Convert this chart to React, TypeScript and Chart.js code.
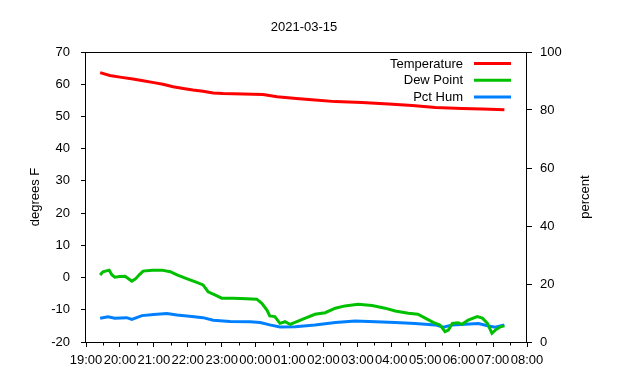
import { useEffect, useRef } from "react";
import { Chart, registerables } from "chart.js";

Chart.register(...registerables);

const chartTitle = "2021-03-15";
const leftAxisTitle = "degrees F";
const rightAxisTitle = "percent";
const xTickHours = ["19:00","20:00","21:00","22:00","23:00","00:00","01:00","02:00","03:00","04:00","05:00","06:00","07:00","08:00"];

const tempTimes = ["19:25","19:42","20:00","20:23","20:41","21:00","21:16","21:34","21:52","22:09","22:27","22:45","23:02","23:38","00:13","00:38","01:12","01:45","02:21","03:08","03:55","04:37","05:18","06:05","06:41","07:20"];
const tempValues = [63.6,62.7,62.2,61.6,61.1,60.5,60.0,59.2,58.7,58.2,57.8,57.3,57.1,57.0,56.8,56.1,55.6,55.1,54.6,54.3,53.9,53.4,52.8,52.5,52.3,52.1];

const dewTimes = ["19:25","19:30","19:41","19:46","19:51","20:00","20:09","20:14","20:21","20:27","20:35","20:41","20:57","21:14","21:29","21:41","21:59","22:16","22:27","22:36","22:48","23:00","23:20","23:44","00:02","00:11","00:20","00:25","00:34","00:43","00:52","01:01","01:14","01:28","01:45","02:03","02:21","02:38","03:01","03:26","03:49","04:07","04:30","04:47","05:00","05:14","05:26","05:35","05:41","05:48","05:58","06:05","06:16","06:32","06:41","06:50","06:58","07:04","07:13","07:20"];
const dewValues = [0.8,1.8,2.3,0.8,0.1,0.3,0.4,-0.2,-1.1,-0.5,1.0,2.0,2.3,2.3,1.8,0.8,-0.4,-1.5,-2.3,-4.4,-5.4,-6.4,-6.4,-6.6,-6.7,-8.0,-10.1,-11.9,-12.1,-14.2,-13.7,-14.5,-13.6,-12.6,-11.4,-10.9,-9.5,-8.8,-8.3,-8.7,-9.5,-10.4,-11.1,-11.4,-12.6,-13.9,-14.7,-16.8,-16.3,-14.2,-14.0,-14.5,-13.2,-12.1,-12.6,-14.2,-17.3,-16.3,-15.3,-15.0];

const humTimes = ["19:25","19:39","19:51","20:12","20:21","20:39","21:00","21:23","21:41","22:03","22:27","22:45","23:15","23:50","00:08","00:25","00:43","01:10","01:45","02:21","02:56","03:32","04:07","04:42","05:18","05:32","05:48","06:11","06:34","06:52","07:04","07:20"];
const humValues = [8.2,8.7,8.2,8.4,7.8,9.1,9.5,9.8,9.3,8.9,8.4,7.5,7.1,7.0,6.7,5.9,5.2,5.3,5.9,6.7,7.2,7.0,6.7,6.4,5.9,5.1,5.9,6.1,6.4,5.5,5.1,5.9];

const seriesNames = ["Temperature", "Dew Point", "Pct Hum"];
const seriesColors = ["#ff0000", "#00c000", "#0080ff"];

const START_HOUR = 19;
function toHours(t: string): number {
  const [h, m] = t.split(":").map(Number);
  return ((h - START_HOUR + 24) % 24) + m / 60;
}
function pts(times: string[], vals: number[]) {
  return times.map((t, i) => ({ x: toHours(t), y: vals[i] }));
}

const FONT = "13px 'Liberation Sans', Arial, sans-serif";

const decorPlugin = {
  id: "decor",
  afterDraw(chart: any) {
    const ctx = chart.ctx;
    const a = chart.chartArea;
    ctx.save();
    ctx.strokeStyle = "#000";
    ctx.lineWidth = 1;
    const l = Math.round(a.left) - 0.5, t = Math.round(a.top) + 0.5;
    const r = Math.round(a.right) - 0.5, b = Math.round(a.bottom) + 0.5;
    ctx.strokeRect(l, t, r - l, b - t);
    const xs = chart.scales.x;
    ctx.beginPath();
    for (let v = 0.5; v < 13; v += 1) {
      const px = Math.round(xs.getPixelForValue(v)) + 0.5;
      ctx.moveTo(px, b);
      ctx.lineTo(px, b + 3);
    }
    ctx.stroke();
    ctx.fillStyle = "#000";
    ctx.font = FONT;
    ctx.textAlign = "center";
    ctx.textBaseline = "alphabetic";
    ctx.fillText(chartTitle, 304, 31);
    ctx.textBaseline = "middle";
    ctx.save();
    ctx.translate(35, (a.top + a.bottom) / 2);
    ctx.rotate(-Math.PI / 2);
    ctx.fillText(leftAxisTitle, 0, 0);
    ctx.restore();
    ctx.save();
    ctx.translate(585, (a.top + a.bottom) / 2);
    ctx.rotate(-Math.PI / 2);
    ctx.fillText(rightAxisTitle, 0, 0);
    ctx.restore();
    ctx.textAlign = "right";
    chart.data.datasets.forEach((ds: any, i: number) => {
      const y = 63.5 + i * 16.7;
      ctx.fillStyle = "#000";
      ctx.fillText(ds.label, 463, y + 0.5);
      ctx.strokeStyle = ds.borderColor;
      ctx.lineWidth = 3;
      ctx.beginPath();
      ctx.moveTo(474, y);
      ctx.lineTo(511, y);
      ctx.stroke();
    });
    ctx.restore();
  },
};

export default function App() {
  const ref = useRef<HTMLCanvasElement | null>(null);
  useEffect(() => {
    document.body.style.margin = "0";
    if (!ref.current) return;
    Chart.defaults.font.family = "'Liberation Sans', Arial, sans-serif";
    Chart.defaults.font.size = 13;
    Chart.defaults.color = "#000";
    const tickGrid = {
      drawOnChartArea: false,
      drawTicks: true,
      tickLength: 5,
      color: "#000",
      tickColor: "#000",
    };
    const chart = new Chart(ref.current, {
      type: "line",
      data: {
        datasets: [
          { label: seriesNames[0], data: pts(tempTimes, tempValues), borderColor: seriesColors[0], yAxisID: "y" },
          { label: seriesNames[1], data: pts(dewTimes, dewValues), borderColor: seriesColors[1], yAxisID: "y" },
          { label: seriesNames[2], data: pts(humTimes, humValues), borderColor: seriesColors[2], yAxisID: "y1" },
        ].map((d) => ({ ...d, borderWidth: 3, pointRadius: 0, tension: 0, fill: false })),
      },
      options: {
        animation: false,
        responsive: false,
        devicePixelRatio: 1,
        layout: { padding: { top: 52, left: 0, right: 0, bottom: 0 } },
        plugins: { legend: { display: false }, title: { display: false }, tooltip: { enabled: false } },
        scales: {
          x: {
            type: "linear",
            min: 0,
            max: 13,
            grid: tickGrid,
            border: { display: false },
            ticks: {
              stepSize: 1,
              autoSkip: false,
              maxRotation: 0,
              padding: 6,
              callback: (v: any) => xTickHours[Math.round(Number(v))] ?? "",
            },
            afterFit: (s: any) => { s.height = 38; },
          },
          y: {
            position: "left",
            min: -20,
            max: 70,
            grid: tickGrid,
            border: { display: false },
            ticks: { stepSize: 10, padding: 11 },
            afterFit: (s: any) => { s.width = 86; },
          },
          y1: {
            position: "right",
            min: 0,
            max: 100,
            grid: tickGrid,
            border: { display: false },
            ticks: { stepSize: 20, padding: 8 },
            afterFit: (s: any) => { s.width = 113; },
          },
        },
      } as any,
      plugins: [decorPlugin],
    });
    return () => chart.destroy();
  }, []);
  return <canvas ref={ref} width={640} height={380} style={{ display: "block" }} />;
}
